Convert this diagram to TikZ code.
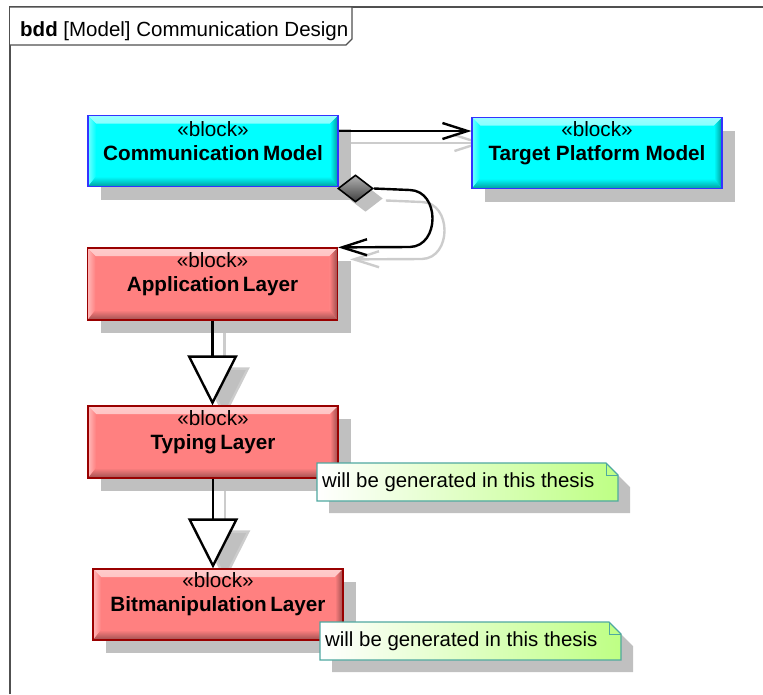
\documentclass[tikz,border=0pt]{standalone}
\usepackage{fontspec}
\setmainfont{Liberation Sans}
\usetikzlibrary{shadows,shapes.geometric,arrows.meta,calc}

\definecolor{blockcyan}{HTML}{00FFFF}
\definecolor{cyanedge}{HTML}{3333FF}
\definecolor{blockred}{HTML}{FF8080}
\definecolor{rededge}{HTML}{990000}
\definecolor{shadowgrey}{HTML}{C0C0C0}
\definecolor{lineshadow}{HTML}{CCCCCC}
\definecolor{frameline}{HTML}{505050}
\definecolor{noteedge}{HTML}{4FA8A0}
\definecolor{notegreen}{HTML}{BEFF84}

\pgfdeclarelayer{bg}
\pgfsetlayers{bg,main}

\tikzset{
  block/.style 2 args={rectangle, draw=#2, line width=1.2pt, fill=#1,
    minimum width=250pt, minimum height=71pt, inner sep=0pt,
    drop shadow={shadow xshift=13pt, shadow yshift=-13pt, fill=shadowgrey, opacity=1},
    path picture={
      % upper bevel
      \shade[top color=white!60!#1, bottom color=#1]
        (path picture bounding box.north west) -- (path picture bounding box.north east)
        -- ([shift={(-8pt,-8pt)}]path picture bounding box.north east)
        -- ([shift={(8pt,-8pt)}]path picture bounding box.north west) -- cycle;
      % left bevel
      \shade[left color=white!45!#1, right color=#1]
        (path picture bounding box.north west)
        -- ([shift={(8pt,-8pt)}]path picture bounding box.north west)
        -- ([shift={(8pt,10pt)}]path picture bounding box.south west)
        -- (path picture bounding box.south west) -- cycle;
      % right bevel
      \shade[left color=#1, right color=black!40!#1]
        (path picture bounding box.north east)
        -- (path picture bounding box.south east)
        -- ([shift={(-8pt,10pt)}]path picture bounding box.south east)
        -- ([shift={(-8pt,-8pt)}]path picture bounding box.north east) -- cycle;
      % lower bevel
      \shade[top color=#1, bottom color=black!38!#1]
        (path picture bounding box.south west)
        -- ([shift={(8pt,10pt)}]path picture bounding box.south west)
        -- ([shift={(-8pt,10pt)}]path picture bounding box.south east)
        -- (path picture bounding box.south east) -- cycle;
    }},
  blocktext/.style={align=center, inner sep=0pt, font=\fontsize{20.7}{24}\selectfont},
  link/.style={line width=2.4pt, draw=black},
  assocarrow/.style={-{Straight Barb[length=25pt, width=16pt]}},
  genarrow/.style={-{Triangle[length=50pt, width=50pt, fill=white]}},
  notetext/.style={inner sep=0pt, font=\fontsize{20.4}{24}\selectfont},
}

% UML note with folded corner: name, left x, top y, text
\newcommand\umlnote[4]{%
  \fill[shadowgrey] (#2+12,#3+12) -- ++(289,0) -- ++(12,12) -- ++(0,26) -- ++(-301,0) -- cycle;
  \shadedraw[left color=white, right color=notegreen, draw=noteedge, line width=1.2pt]
    (#2,#3) -- ++(289,0) -- ++(12,12) -- ++(0,26) -- ++(-301,0) -- cycle;
  \draw[noteedge, line width=1pt] (#2+289,#3) -- ++(0,12) -- ++(12,0);
  \node[notetext, anchor=west] (#1) at (#2+5,#3+19.5) {#4};
}

\begin{document}
\begin{tikzpicture}[x=1pt, y=-1pt]
  \useasboundingbox (0,0) rectangle (763,694);

  % diagram frame and its name tab
  \draw[frameline, line width=1.5pt] (10,694) -- (10,7) -- (763,7);
  \draw[frameline, line width=1.2pt, fill=white]
    (10,7) -- (352,7) -- (352,39) -- (346,45) -- (10,45);
  \node[anchor=base west, inner sep=0pt, font=\fontsize{20.5}{24}\selectfont] (title)
    at (20,36) {\textbf{bdd} [Model] Communication Design};

  % blocks
  \node[block={blockcyan}{cyanedge},
        label={[name=cm-t, blocktext, yshift=10pt]center:«block»\\\textbf{Communication\,Model}}]
        (cm) at (213,151) {};
  \node[block={blockcyan}{cyanedge},
        label={[name=tp-t, blocktext, yshift=10pt]center:«block»\\\textbf{Target Platform Model}}]
        (tp) at (597,153) {};
  \node[block={blockred}{rededge}, minimum height=72pt,
        label={[name=al-t, blocktext, yshift=10pt]center:«block»\\\textbf{Application\,Layer}}]
        (al) at (212.5,284) {};
  \node[block={blockred}{rededge}, minimum height=72pt,
        label={[name=tl-t, blocktext, yshift=10pt]center:«block»\\\textbf{Typing\,Layer}}]
        (tl) at (213,442) {};
  \node[block={blockred}{rededge},
        label={[name=bl-t, blocktext, yshift=10pt]center:«block»\\\textbf{Bitmanipulation\,Layer}}]
        (bl) at (218,604.5) {};

  % composition diamond at the owner
  \node[diamond, minimum width=35pt, minimum height=27pt, inner sep=0pt,
        draw=black, line width=1.6pt, top color=black!30, bottom color=black!75,
        drop shadow={shadow xshift=10pt, shadow yshift=-10pt, fill=shadowgrey, opacity=1}]
        (comp) at (355.5,188.5) {};

  % connector shadows
  \begin{pgfonlayer}{bg}
    \begin{scope}[transform canvas={shift={(12pt,-12pt)}}]
      \draw[link, draw=lineshadow, assocarrow]
        ([yshift=20pt]cm.east) -- ([yshift=20pt]cm.east -| tp.west);
      \draw[link, draw=lineshadow, assocarrow]
        (comp.east) -- (410,190) .. controls (440,191) and (440,246) .. (410,247) -- (al.north east);
      \draw[link, draw=lineshadow, -{Triangle[length=50pt, width=50pt, fill=shadowgrey]}]
        (al.south) -- (al.south |- tl.north);
      \draw[link, draw=lineshadow, -{Triangle[length=50pt, width=50pt, fill=shadowgrey]}]
        (tl.south) -- (tl.south |- bl.north);
    \end{scope}
  \end{pgfonlayer}

  % connectors
  \draw[link, assocarrow] ([yshift=20pt]cm.east) -- ([yshift=20pt]cm.east -| tp.west);
  \draw[link, assocarrow]
    (comp.east) -- (410,190) .. controls (440,191) and (440,246) .. (410,247) -- (al.north east);
  \draw[link, genarrow] (al.south) -- (al.south |- tl.north);
  \draw[link, genarrow] (tl.south) -- (tl.south |- bl.north);

  % notes
  \umlnote{n1}{317}{463}{will be generated in this thesis}
  \umlnote{n2}{320}{622}{will be generated in this thesis}
\end{tikzpicture}
\end{document}
